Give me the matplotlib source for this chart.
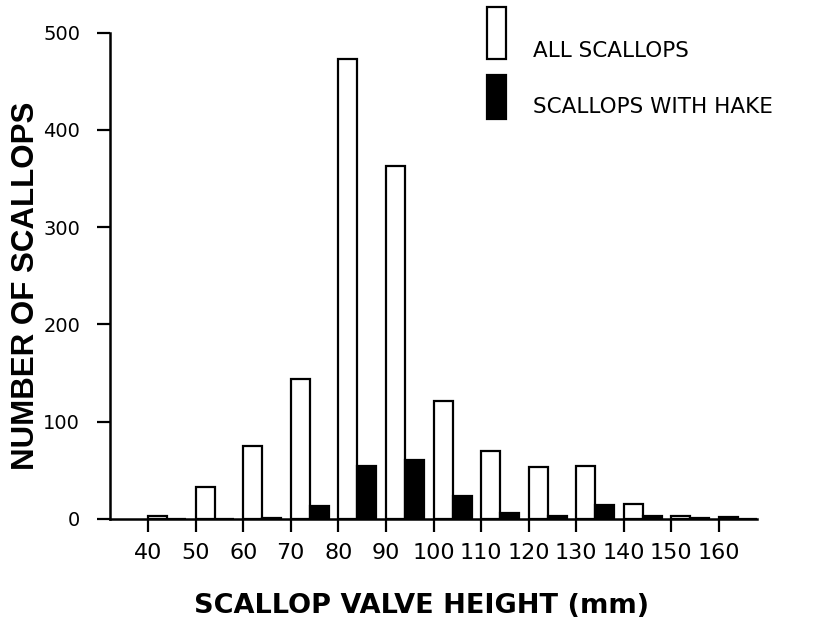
import numpy as np
import matplotlib
matplotlib.use("Agg")
import matplotlib.pyplot as plt
from matplotlib.patches import Rectangle

# size classes (mm), counts
heights = [40, 50, 60, 70, 80, 90, 100, 110, 120, 130, 140, 150, 160]
all_scallops = [3, 33, 75, 144, 473, 363, 121, 70, 53, 54, 15, 3, 2]
with_hake = [0, 0, 1, 13, 54, 61, 24, 6, 3, 14, 3, 1, 0]
yticks = [0, 100, 200, 300, 400, 500]

W, H = 822, 622
fig = plt.figure(figsize=(W / 100, H / 100), dpi=100)
ax = fig.add_axes([110 / W, (H - 519) / H, 647 / W, 486.3 / H])

x = np.array(heights, dtype=float)
ax.bar(x, all_scallops, width=4, align="edge", color="white",
       edgecolor="black", linewidth=1.6)
ax.bar(x + 4, with_hake, width=4, align="edge", color="black",
       edgecolor="black", linewidth=1.6)

ax.set_xlim(32, 168)
ax.set_ylim(0, 500)
ax.set_xticks(heights)
ax.set_xticklabels([str(h) for h in heights], fontsize=16,
                   family="DejaVu Sans")
ax.set_yticks(yticks)
ax.set_yticklabels([str(t) for t in yticks], fontsize=14,
                   family="DejaVu Sans")

for side in ["top", "right"]:
    ax.spines[side].set_visible(False)
for side in ["left", "bottom"]:
    ax.spines[side].set_linewidth(1.8)
ax.tick_params(axis="x", direction="out", length=9, width=1.6, pad=8)
ax.tick_params(axis="y", direction="out", length=9.5, width=1.6, pad=12)

ax.set_ylabel("NUMBER OF SCALLOPS", fontsize=22.5, fontweight="bold",
              family="Liberation Sans")
ax.yaxis.set_label_coords(-0.106, 0.479)
ax.set_xlabel("SCALLOP VALVE HEIGHT (mm)", fontsize=19.5, fontweight="bold",
              family="DejaVu Sans")
ax.xaxis.set_label_coords(0.482, -0.152)

# legend drawn by hand: tall keys with the text at their foot
def fx(px):
    return px / W


def fy(py):
    return (H - py) / H


fig.patches.append(Rectangle((fx(487), fy(59)), fx(19), 52 / H,
                             transform=fig.transFigure, facecolor="white",
                             edgecolor="black", linewidth=1.6))
fig.patches.append(Rectangle((fx(487), fy(119)), fx(19), 44 / H,
                             transform=fig.transFigure, facecolor="black",
                             edgecolor="black", linewidth=1.6))
fig.text(fx(533), fy(57), "ALL SCALLOPS", fontsize=15.5, family="DejaVu Sans",
         va="baseline", ha="left")
fig.text(fx(533), fy(113), "SCALLOPS WITH HAKE", fontsize=15.5,
         family="DejaVu Sans", va="baseline", ha="left")

fig.savefig("out.png", dpi=100)
